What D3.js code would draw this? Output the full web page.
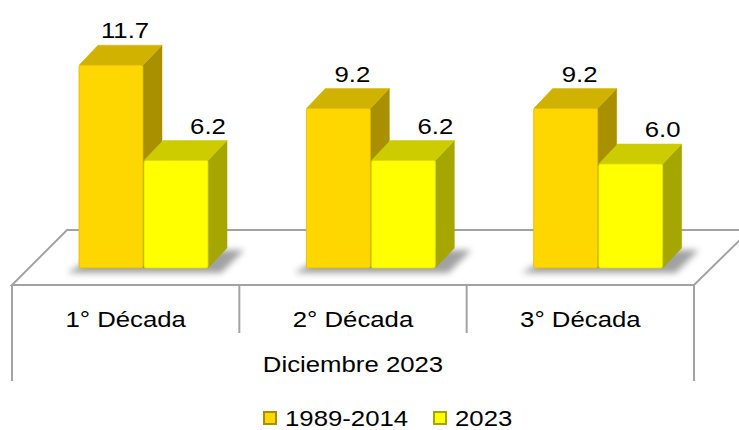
<!DOCTYPE html>
<html>
<head>
<meta charset="utf-8">
<script src="https://cdn.jsdelivr.net/npm/d3@7"></script>
<style>
  body { margin: 0; background: #fff; }
  svg text { font-family: "Liberation Sans", Arial, sans-serif; fill: #000; }
</style>
</head>
<body>
<div id="chart"></div>
<script>
// data
var categories = ["1° Década", "2° Década", "3° Década"];
var seriesNames = ["1989-2014", "2023"];
var values1989 = [11.7, 9.2, 9.2];
var values2023 = [6.2, 6.2, 6.0];
var groupLabel = "Diciembre 2023";

var faceColors = [
    { front: "#ffd700", top: "#d2b200", side: "#a89000" },
    { front: "#ffff00", top: "#cccc00", side: "#a6a600" }
];

var width = 739, height = 430;
var baseY = 268, floorFront = 285, floorBack = 230;
var depthX = 19, depthY = 20;
var stretch = 1.12;

var svg = d3.select("#chart").append("svg")
    .attr("width", width)
    .attr("height", height);

var defs = svg.append("defs");
defs.append("filter").attr("id", "blur")
    .attr("x", "-20%").attr("y", "-50%").attr("width", "140%").attr("height", "200%")
    .append("feGaussianBlur").attr("stdDeviation", 3);

// scales
var x = d3.scaleBand().domain(categories).range([12, 694]);
var xs = d3.scaleBand().domain(seriesNames).range([67, 197]);
var y = d3.scaleLinear().domain([0, 12]).range([baseY, 60]);

var data = categories.map(function(c, i) {
    return { cat: c, vals: [values1989[i], values2023[i]] };
});

// floor
var lineColor = "#a3a3a3";
var floor = svg.append("g");
floor.append("path")
    .attr("d", "M12," + floorFront + "L67," + floorBack + "L750," + floorBack + "L694," + floorFront + "Z")
    .attr("fill", "#fff")
    .attr("stroke", lineColor)
    .attr("stroke-width", 2);

// box under the floor
floor.append("line")
    .attr("x1", 12).attr("x2", 12).attr("y1", floorFront).attr("y2", 381)
    .attr("stroke", lineColor).attr("stroke-width", 2);
floor.append("line")
    .attr("x1", 694).attr("x2", 694).attr("y1", floorFront).attr("y2", 381)
    .attr("stroke", lineColor).attr("stroke-width", 2);
floor.selectAll("line.sep")
    .data(categories.slice(1))
    .enter().append("line")
    .attr("class", "sep")
    .attr("x1", function(d) { return x(d); })
    .attr("x2", function(d) { return x(d); })
    .attr("y1", floorFront).attr("y2", 333)
    .attr("stroke", lineColor).attr("stroke-width", 2);

// stretched text helper
function label(g, tx, ty, txt) {
    return g.append("text")
        .attr("transform", "translate(" + tx + "," + ty + ") scale(" + stretch + ",1)")
        .attr("text-anchor", "middle")
        .style("font-size", "23px")
        .text(txt);
}

// bar groups
var groups = svg.selectAll("g.cat")
    .data(data)
    .enter().append("g")
    .attr("class", "cat")
    .attr("transform", function(d) { return "translate(" + x(d.cat) + ",0)"; });

// shadows
groups.append("path")
    .attr("d", function(d) {
        var l = xs(seriesNames[0]) - 12;
        var r = xs(seriesNames[1]) + xs.bandwidth() + 12;
        return "M" + l + "," + (baseY + 5) + "L" + r + "," + (baseY + 5) +
            "L" + (r + depthX + 4) + "," + (baseY - depthY + 2) +
            "L" + (l + depthX + 20) + "," + (baseY - depthY + 2) + "Z";
    })
    .attr("fill", "#8a8a8a")
    .attr("opacity", 0.8)
    .attr("filter", "url(#blur)");

groups.each(function(d) {
    var g = d3.select(this);
    d.vals.forEach(function(v, i) {
        var x0 = xs(seriesNames[i]);
        var w = xs.bandwidth() - 1;
        var yt = y(v);
        var c = faceColors[i];
        // side
        g.append("path")
            .attr("d", "M" + (x0 + w) + "," + yt + "L" + (x0 + w + depthX) + "," + (yt - depthY) +
                "L" + (x0 + w + depthX) + "," + (baseY - depthY) + "L" + (x0 + w) + "," + baseY + "Z")
            .attr("fill", c.side)
            .attr("stroke", c.side).attr("stroke-width", 0.5)
            .attr("stroke-linejoin", "round");
        // top
        g.append("path")
            .attr("d", "M" + x0 + "," + yt + "L" + (x0 + depthX) + "," + (yt - depthY) +
                "L" + (x0 + w + depthX) + "," + (yt - depthY) + "L" + (x0 + w) + "," + yt + "Z")
            .attr("fill", c.top)
            .attr("stroke", c.top).attr("stroke-width", 0.5)
            .attr("stroke-linejoin", "round");
        // front
        g.append("rect")
            .attr("x", x0).attr("y", yt)
            .attr("width", w).attr("height", baseY - yt)
            .attr("rx", 2)
            .attr("fill", c.front)
            .attr("stroke", d3.color(c.front).darker(0.4)).attr("stroke-width", 0.8);
        // value label
        var off = i === 0 ? 14 : 32;
        label(g, x0 + w / 2 + off, yt - depthY - 7, v.toFixed(1));
    });
});

// category labels
categories.forEach(function(c) {
    label(svg, x(c) + x.bandwidth() / 2, 327, c);
});
label(svg, (x.range()[0] + x.range()[1]) / 2, 372, groupLabel);

// legend
var legendX = [263, 433];
var legend = svg.selectAll("g.legend")
    .data(seriesNames)
    .enter().append("g")
    .attr("class", "legend")
    .attr("transform", function(d, i) { return "translate(" + legendX[i] + ",411)"; });

legend.append("rect")
    .attr("width", 14).attr("height", 14)
    .attr("fill", function(d, i) { return faceColors[i].side; });
legend.append("rect")
    .attr("x", 2).attr("y", 2)
    .attr("width", 10).attr("height", 10)
    .attr("fill", function(d, i) { return faceColors[i].front; });
legend.append("text")
    .attr("transform", "translate(22,15) scale(" + stretch + ",1)")
    .style("font-size", "23px")
    .text(function(d) { return d; });
</script>
</body>
</html>
